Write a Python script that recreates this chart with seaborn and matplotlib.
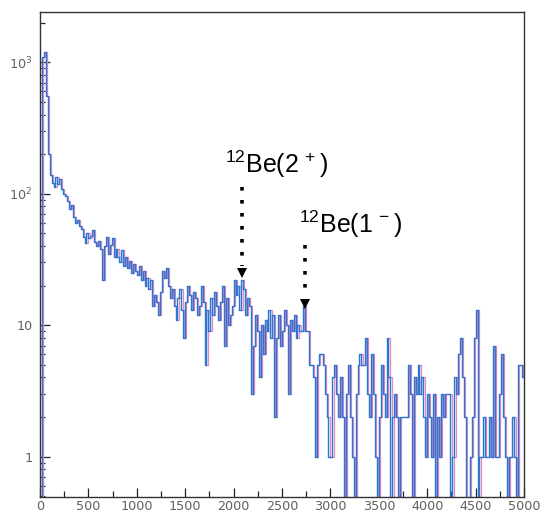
import numpy as np
import pandas as pd
import matplotlib
matplotlib.use("Agg")
import matplotlib.pyplot as plt
import matplotlib.transforms as mtransforms
from matplotlib.ticker import LogLocator, FixedLocator, MultipleLocator, NullFormatter
import seaborn as sns

# Energy spectrum: 20-unit channels from 0 to 5000
bin_width = 20
x_max = 5000
counts = [
    0, 1100, 1200, 550, 200, 140, 120, 112, 135, 118,
    130, 108, 100, 96, 88, 76, 82, 66, 60, 63,
    57, 54, 47, 42, 50, 46, 48, 53, 43, 40,
    44, 38, 22, 40, 47, 35, 41, 46, 33, 38,
    33, 30, 37, 28, 33, 27, 31, 25, 29, 26,
    24, 28, 22, 26, 20, 23, 19, 22, 14, 17,
    15, 12, 18, 26, 23, 27, 20, 16, 19, 14,
    11, 16, 19, 13, 8, 15, 20, 17, 13, 18,
    16, 12, 14, 20, 15, 5, 13, 9, 16, 12,
    18, 14, 11, 15, 20, 7, 16, 10, 12, 14,
    22, 17, 20, 13, 22, 19, 12, 16, 14, 3,
    7, 12, 9, 4, 10, 6, 11, 9, 13, 8,
    12, 2, 8, 12, 7, 9, 13, 10, 3, 11,
    9, 12, 8, 10, 9, 9, 14, 9, 9, 5,
    5, 4, 1, 5, 6, 6, 5, 3, 2, 1,
    1, 4, 5, 3, 2, 4, 2, 0, 3, 5,
    2, 1, 0, 3, 5, 6, 5, 5, 8, 3,
    2, 6, 3, 1, 0, 2, 5, 3, 2, 8,
    4, 0, 2, 3, 2, 0, 2, 2, 2, 2,
    5, 3, 0, 4, 3, 5, 3, 4, 2, 1,
    3, 2, 1, 3, 0, 2, 1, 3, 2, 3,
    3, 3, 0, 1, 4, 3, 6, 8, 4, 2,
    0, 0, 1, 2, 8, 13, 0, 1, 1, 2,
    1, 1, 2, 1, 7, 1, 1, 3, 6, 2,
    1, 0, 1, 1, 2, 1, 0, 5, 5, 4,
]

# Peak markers: label, energy, arrow top / tip (counts), label offset (points)
peak_labels = [r"$\mathregular{^{12}Be(2^{\,+})}$", r"$\mathregular{^{12}Be(1^{\,-})}$"]
peak_energy = [2086, 2741]
arrow_top = [112, 41]
arrow_tip = [25, 14.5]
label_dx = [-12.5, -4.5]
label_dy = [10.5, 8.0]

x_ticks = list(range(0, 5001, 500))
y_ticks = [1, 10, 100, 1000]
y_tick_labels = ["1", "10", r"$\mathregular{10^{2}}$", r"$\mathregular{10^{3}}$"]

centers = np.arange(len(counts)) * bin_width + bin_width / 2
spectrum = pd.DataFrame({"energy": centers, "counts": counts})

sns.set_style("white")
plt.rcParams["font.family"] = ["DejaVu Sans"]
plt.rcParams["mathtext.fontset"] = "custom"
plt.rcParams["mathtext.rm"] = "DejaVu Sans"

fig = plt.figure(figsize=(5.40, 5.14), dpi=100)
ax = fig.add_axes([40 / 540, 1 - 497.3 / 514, 484 / 540, (497.3 - 12.3) / 514])

hist_kws = dict(data=spectrum, x="energy", weights="counts", binwidth=bin_width,
                binrange=(0, x_max), element="step", fill=False, ax=ax)

# pink shadow trace, slightly offset to the right
sns.histplot(color="#e58cc0", linewidth=0.9, **hist_kws)
shadow = ax.lines[-1]
shadow.set_transform(shadow.get_transform() +
                     mtransforms.ScaledTranslation(0.012, 0, fig.dpi_scale_trans))

sns.histplot(color="#2b76d0", linewidth=1.0, **hist_kws)

ax.set_yscale("log")
ax.set_xlim(0, x_max)
ax.set_ylim(0.49, 2400)
ax.set_xlabel("")
ax.set_ylabel("")

ax.xaxis.set_major_locator(FixedLocator(x_ticks))
ax.xaxis.set_minor_locator(MultipleLocator(250))
ax.yaxis.set_major_locator(FixedLocator(y_ticks))
ax.set_yticklabels(y_tick_labels)
ax.yaxis.set_minor_locator(LogLocator(base=10, subs=np.arange(2, 10)))
ax.yaxis.set_minor_formatter(NullFormatter())

ax.tick_params(axis="both", which="both", direction="in", colors="#222222",
               labelcolor="#606060", labelsize=9.2, width=0.9,
               bottom=True, left=True, top=False, right=False)
ax.tick_params(axis="x", which="major", length=6.5, pad=2.2)
ax.tick_params(axis="x", which="minor", length=4)
ax.tick_params(axis="y", which="major", length=7.5, pad=5.5)
ax.tick_params(axis="y", which="minor", length=3.8)

for side in ax.spines.values():
    side.set_color("#333333")
    side.set_linewidth(1.0)

for label, xe, yt, yp, dx, dy in zip(peak_labels, peak_energy, arrow_top,
                                     arrow_tip, label_dx, label_dy):
    ax.plot([xe, xe], [yt, yp * 1.12], color="black", linewidth=2.6,
            linestyle=(0, (1, 2.6)), dash_capstyle="butt")
    ax.plot([xe], [yp], marker="v", markersize=7.5, color="black",
            markeredgewidth=0)
    ax.annotate(label, xy=(xe, yt), xytext=(dx, dy), textcoords="offset points",
                ha="left", va="baseline", fontsize=18,
                fontfamily="Liberation Sans", color="black")

fig.savefig("out.png", dpi=100)
